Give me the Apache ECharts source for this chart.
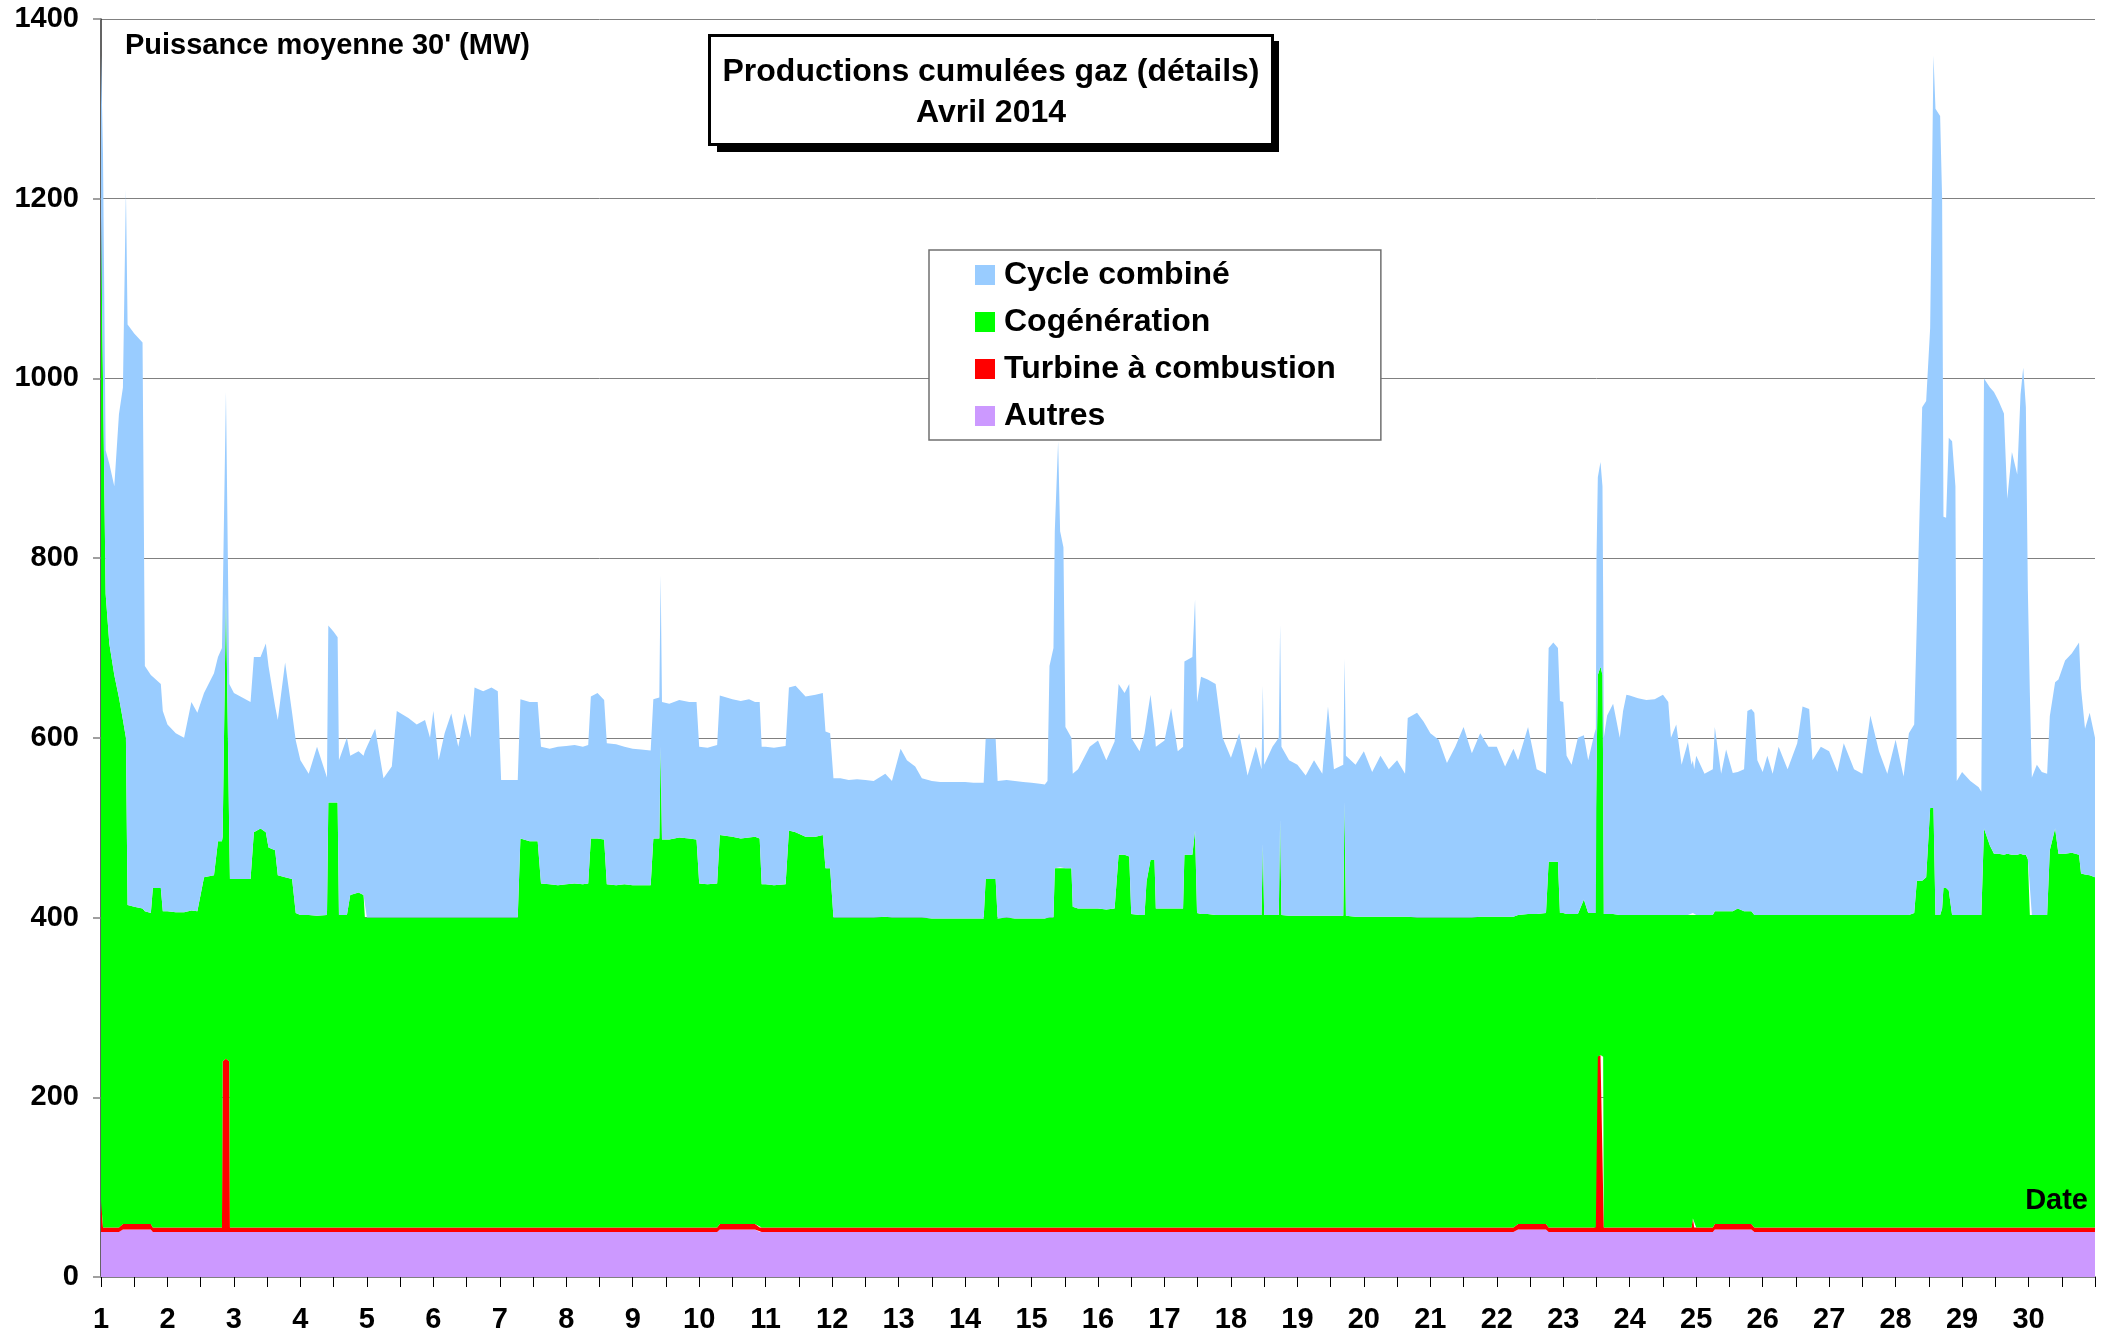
<!DOCTYPE html>
<html><head><meta charset="utf-8">
<script src="https://cdn.jsdelivr.net/npm/echarts@6/dist/echarts.min.js"></script>
<style>html,body{margin:0;padding:0;background:#fff}#c{width:2112px;height:1340px}</style>
</head><body><div id="c"></div>
<script>
// time in days (1.0 = 1 April 00:00)
const times = [
1.0,1.03,1.07,1.125,1.2,1.27,1.33,1.375,1.40,1.5,1.625,1.66,1.75,1.78,1.9,1.93,
2.0,2.125,2.25,2.36,2.45,2.55,2.7,2.76,2.82,2.83,2.88,2.93,2.94,3.0,
3.125,3.25,3.30,3.40,3.48,3.52,3.62,3.66,3.77,3.875,3.93,
4.0,4.125,4.25,4.4,4.42,4.5,4.56,4.58,4.7,4.75,4.875,4.95,4.97,
5.0,5.125,5.25,5.375,5.45,5.625,5.75,5.875,5.95,
6.0,6.08,6.17,6.27,6.375,6.47,6.56,6.62,6.75,6.875,6.97,
7.02,7.125,7.27,7.31,7.45,7.57,7.62,7.75,7.875,
8.0,8.125,8.25,8.33,8.37,8.47,8.57,8.61,8.75,8.875,
9.0,9.125,9.27,9.31,9.40,9.42,9.44,9.55,9.7,9.85,9.96,
10.0,10.125,10.27,10.31,10.5,10.625,10.75,10.84,10.91,10.94,
11.0,11.125,11.3,11.35,11.45,11.6,11.75,11.86,11.9,11.97,12.02,
12.125,12.25,12.375,12.5,12.625,12.8,12.9,
13.03,13.125,13.25,13.35,13.5,13.625,13.75,13.875,
14.0,14.125,14.28,14.31,14.46,14.49,14.625,14.75,14.875,
15.0,15.125,15.2,15.24,15.27,15.33,15.35,15.40,15.43,15.48,15.51,15.6,15.62,15.7,15.875,
16.0,16.125,16.25,16.31,16.4,16.47,16.5,16.625,16.7,16.73,16.79,16.85,16.87,
17.0,17.1,17.2,17.28,17.3,17.42,17.46,17.49,17.55,17.65,17.77,17.875,
18.0,18.125,18.25,18.375,18.46,18.48,18.50,18.625,18.72,18.74,18.76,18.875,
19.0,19.125,19.25,19.375,19.46,19.55,19.69,19.71,19.73,19.875,
20.0,20.125,20.25,20.375,20.5,20.62,20.66,20.8,20.9,
21.0,21.125,21.25,21.375,21.5,21.625,21.75,21.875,
22.0,22.125,22.25,22.32,22.47,22.6,22.74,22.78,22.85,22.92,22.95,
23.0,23.05,23.125,23.22,23.31,23.375,23.47,23.49,23.50,23.52,23.56,23.59,23.60,23.61,23.66,23.75,23.85,23.9,23.95,
24.0,24.125,24.25,24.375,24.5,24.58,24.62,24.7,24.78,24.875,24.93,24.95,24.97,
25.0,25.125,25.25,25.28,25.375,25.45,25.55,25.625,25.72,25.77,25.83,25.875,25.92,
26.0,26.07,26.15,26.24,26.375,26.52,26.6,26.7,26.75,26.875,
27.0,27.125,27.22,27.375,27.5,27.62,27.75,27.875,
28.0,28.12,28.2,28.28,28.32,28.4,28.46,28.52,28.57,28.6,28.67,28.70,28.72,28.76,28.8,28.85,28.9,28.92,
29.0,29.125,29.25,29.29,29.33,29.42,29.48,29.55,29.63,29.68,29.75,29.83,29.88,29.92,29.96,29.99,30.02,30.05,
30.125,30.2,30.28,30.32,30.4,30.45,30.55,30.65,30.76,30.79,30.85,30.92,31.0
];
// Autres (MW)
const autres = [
50,50,50,50,50,50,53,53,53,53,53,53,53,50,50,50,
50,50,50,50,50,50,50,50,50,50,50,50,50,50,
50,50,50,50,50,50,50,50,50,50,50,
50,50,50,50,50,50,50,50,50,50,50,50,50,
50,50,50,50,50,50,50,50,50,
50,50,50,50,50,50,50,50,50,50,50,
50,50,50,50,50,50,50,50,50,
50,50,50,50,50,50,50,50,50,50,
50,50,50,50,50,50,50,50,50,50,50,
50,50,50,53,53,53,53,53,50,50,
50,50,50,50,50,50,50,50,50,50,50,
50,50,50,50,50,50,50,
50,50,50,50,50,50,50,50,
50,50,50,50,50,50,50,50,50,
50,50,50,50,50,50,50,50,50,50,50,50,50,50,50,
50,50,50,50,50,50,50,50,50,50,50,50,50,
50,50,50,50,50,50,50,50,50,50,50,50,
50,50,50,50,50,50,50,50,50,50,50,50,
50,50,50,50,50,50,50,50,50,50,
50,50,50,50,50,50,50,50,50,
50,50,50,50,50,50,50,50,
50,50,50,53,53,53,53,50,50,50,50,
50,50,50,50,50,50,50,50,50,50,50,50,50,50,50,50,50,50,50,
50,50,50,50,50,50,50,50,50,50,50,50,50,
50,50,50,53,53,53,53,53,53,53,53,50,50,
50,50,50,50,50,50,50,50,50,50,
50,50,50,50,50,50,50,50,
50,50,50,50,50,50,50,50,50,50,50,50,50,50,50,50,50,50,
50,50,50,50,50,50,50,50,50,50,50,50,50,50,50,50,50,50,
50,50,50,50,50,50,50,50,50,50,50,50,50
];
// Turbine à combustion (MW)
const turbine = [
35,5,5,5,5,5,6,6,6,6,6,6,6,5,5,5,
5,5,5,5,5,5,5,5,5,190,193,190,5,5,
5,5,5,5,5,5,5,5,5,5,5,
5,5,5,5,5,5,5,5,5,5,5,5,5,
5,5,5,5,5,5,5,5,5,
5,5,5,5,5,5,5,5,5,5,5,
5,5,5,5,5,5,5,5,5,
5,5,5,5,5,5,5,5,5,5,
5,5,5,5,5,5,5,5,5,5,5,
5,5,5,6,6,6,6,6,5,5,
5,5,5,5,5,5,5,5,5,5,5,
5,5,5,5,5,5,5,
5,5,5,5,5,5,5,5,
5,5,5,5,5,5,5,5,5,
5,5,5,5,5,5,5,5,5,5,5,5,5,5,5,
5,5,5,5,5,5,5,5,5,5,5,5,5,
5,5,5,5,5,5,5,5,5,5,5,5,
5,5,5,5,5,5,5,5,5,5,5,5,
5,5,5,5,5,5,5,5,5,5,
5,5,5,5,5,5,5,5,5,
5,5,5,5,5,5,5,5,
5,5,5,6,6,6,6,5,5,5,5,
5,5,5,5,5,5,5,5,195,195,197,195,195,5,5,5,5,5,5,
5,5,5,5,5,5,5,5,5,5,5,15,5,
5,5,5,6,6,6,6,6,6,6,6,5,5,
5,5,5,5,5,5,5,5,5,5,
5,5,5,5,5,5,5,5,
5,5,5,5,5,5,5,5,5,5,5,5,5,5,5,5,5,5,
5,5,5,5,5,5,5,5,5,5,5,5,5,5,5,5,5,5,
5,5,5,5,5,5,5,5,5,5,5,5,5
];
// Cogénération (MW)
const cogeneration = [
1095,945,705,650,615,590,561,541,355,353,351,348,346,378,378,352,
352,351,351,353,352,390,392,430,430,250,517,250,388,388,
388,388,440,444,440,423,420,392,390,388,350,
348,348,347,348,473,473,473,348,348,370,373,370,345,
345,345,345,345,345,345,345,345,345,
345,345,345,345,345,345,345,345,345,345,345,
345,345,345,433,430,430,383,382,381,
382,383,382,383,433,433,432,382,381,382,
381,381,381,433,433,535,432,432,434,433,432,
383,382,383,433,431,429,430,431,433,382,
382,381,382,442,440,435,435,437,400,400,345,
345,345,345,345,345,346,345,
345,345,345,345,344,344,344,344,
344,344,344,388,388,344,345,344,344,
344,344,344,345,345,345,400,400,401,400,400,400,357,355,355,
355,354,355,415,415,413,349,348,348,385,409,409,355,
355,355,355,355,415,415,442,350,349,349,348,348,
348,348,348,348,348,427,348,348,348,454,348,347,
347,347,347,347,347,347,347,474,347,346,
346,346,346,346,346,346,346,345,345,
345,345,345,345,345,345,346,346,
346,346,346,344,345,345,346,407,407,407,350,
350,349,349,349,365,350,350,350,315,425,432,425,315,349,349,349,348,348,348,
348,348,348,348,348,348,348,348,348,348,348,340,348,
348,348,348,348,348,348,348,351,348,348,348,348,348,
348,348,348,348,348,348,348,348,348,348,
348,348,348,348,348,348,348,348,
348,348,348,350,386,386,390,467,467,348,348,355,378,378,375,348,348,348,
348,348,348,348,444,425,416,416,415,416,415,415,416,415,415,410,348,348,
348,348,348,420,444,416,416,417,415,394,393,392,390
];
// Cycle combiné (MW)
const cycleCombine = [
180,250,160,200,210,315,370,610,646,638,630,273,265,235,227,223,
208,199,194,232,221,205,225,205,215,210,225,170,217,207,
202,197,195,191,210,202,160,173,239,185,192,
172,157,188,153,197,190,184,172,197,155,157,155,185,
190,210,155,168,230,222,215,220,200,
230,175,205,227,190,227,200,256,252,256,252,
153,153,153,155,155,155,152,151,154,
154,154,153,154,158,162,155,157,157,153,
152,151,150,155,157,191,153,151,153,152,153,
152,152,154,155,153,153,154,150,152,153,
153,153,154,159,163,156,158,158,152,150,155,
155,153,154,153,152,159,152,
188,175,168,155,153,152,152,152,
152,151,151,156,156,153,153,153,152,
151,150,149,152,280,300,375,475,374,357,157,145,148,155,180,
187,166,186,190,180,192,196,182,202,180,184,146,180,
187,223,175,180,215,220,257,235,264,261,257,197,
175,202,155,187,162,176,167,187,197,217,187,173,
168,156,173,158,233,163,168,159,178,169,
184,161,179,164,174,159,221,228,218,
205,198,172,190,212,183,204,189,
189,167,187,172,208,161,155,238,244,238,236,
235,176,166,196,183,170,200,205,240,220,228,210,200,196,221,234,197,227,245,
244,241,239,240,245,237,197,212,167,192,167,170,162,
177,157,162,205,153,180,154,152,158,223,225,225,172,
159,177,157,187,162,191,232,229,172,187,
182,159,191,162,157,222,182,157,
195,154,202,210,289,527,530,534,837,897,889,790,413,412,504,527,477,149,
159,149,142,137,501,510,514,504,491,395,448,423,511,542,498,299,247,153,
167,159,157,149,163,194,215,222,236,206,162,181,155
];
const dayLabels = ['1','2','3','4','5','6','7','8','9','10','11','12','13','14','15','16','17','18','19','20','21','22','23','24','25','26','27','28','29','30'];
const yTicks = [0, 200, 400, 600, 800, 1000, 1200, 1400];

[autres, turbine, cogeneration, cycleCombine].forEach((a, k) => {
  if (a.length !== times.length) throw new Error('length mismatch ' + k + ': ' + a.length + ' vs ' + times.length);
});

const FONT = "'Liberation Sans', Arial, sans-serif";
const chart = echarts.init(document.getElementById('c'), null, {renderer: 'canvas'});

// value first (stacked dimension), time second; encode maps them to y / x
function mk(name, values, color) {
  return {
    name: name, type: 'line', stack: 'total', symbol: 'none', showSymbol: false,
    encode: {x: 1, y: 0},
    lineStyle: {width: 0, color: color}, itemStyle: {color: color},
    areaStyle: {color: color, opacity: 1},
    emphasis: {disabled: true}, animation: false,
    data: times.map((t, i) => [values[i], t])
  };
}

chart.setOption({
  animation: false,
  backgroundColor: '#ffffff',
  textStyle: {fontFamily: FONT},
  grid: {left: 101, right: 17, top: 19, bottom: 63, containLabel: false},
  graphic: [
    {type: 'rect', z: 5, shape: {x: 717, y: 41, width: 562, height: 111}, style: {fill: '#000'}}
  ],
  title: [
    {
      text: 'Productions cumulées gaz (détails)\nAvril 2014',
      left: 991 - 13, top: 35, textAlign: 'center', z: 6,
      padding: [17, 13, 11, 13],
      backgroundColor: '#fff', borderColor: '#000', borderWidth: 3,
      textStyle: {fontFamily: FONT, fontSize: 32, fontWeight: 'bold', color: '#000', lineHeight: 41}
    },
    {
      text: "Puissance moyenne 30' (MW)",
      left: 125, top: 31, padding: 0,
      textStyle: {fontFamily: FONT, fontSize: 29, fontWeight: 'bold', color: '#000', lineHeight: 30}
    },
    {
      text: 'Date',
      right: 24, top: 1186, padding: 0,
      textStyle: {fontFamily: FONT, fontSize: 29, fontWeight: 'bold', color: '#000', lineHeight: 30}
    }
  ],
  legend: {
    data: ['Cycle combiné', 'Cogénération', 'Turbine à combustion', 'Autres'],
    orient: 'vertical', left: 929, top: 250,
    padding: [9, 45, 8, 46],
    itemWidth: 20, itemHeight: 20, itemGap: 15, icon: 'rect',
    backgroundColor: '#fff', borderColor: '#707070', borderWidth: 1.5,
    selectedMode: false,
    textStyle: {fontFamily: FONT, fontSize: 32, fontWeight: 'bold', color: '#000', lineHeight: 32, padding: [0, 0, 0, 4]}
  },
  xAxis: {
    type: 'value', min: 1, max: 31, interval: 1,
    axisLine: {show: true, onZero: false, lineStyle: {color: '#808080', width: 2}},
    axisTick: {show: true, length: 10, lineStyle: {color: '#000', width: 1}},
    minorTick: {show: true, splitNumber: 2, length: 10, lineStyle: {color: '#000', width: 1}},
    splitLine: {show: false},
    axisLabel: {
      margin: 28, color: '#000', fontFamily: FONT, fontSize: 29, fontWeight: 'bold',
      formatter: v => dayLabels[Math.round(v) - 1] || ''
    }
  },
  yAxis: {
    type: 'value', min: yTicks[0], max: yTicks[yTicks.length - 1], interval: 200,
    axisLine: {show: true, lineStyle: {color: '#303030', width: 1.5}},
    axisTick: {show: true, length: 8, lineStyle: {color: '#808080', width: 1.5}},
    splitLine: {show: true, lineStyle: {color: '#808080', width: 1}},
    axisLabel: {margin: 22, color: '#000', fontFamily: FONT, fontSize: 29, fontWeight: 'bold',
      formatter: v => String(v)}
  },
  series: [
    mk('Autres', autres, '#CC99FF'),
    mk('Turbine à combustion', turbine, '#FF0000'),
    mk('Cogénération', cogeneration, '#00FF00'),
    mk('Cycle combiné', cycleCombine, '#99CCFF')
  ]
});
</script>
</body></html>
